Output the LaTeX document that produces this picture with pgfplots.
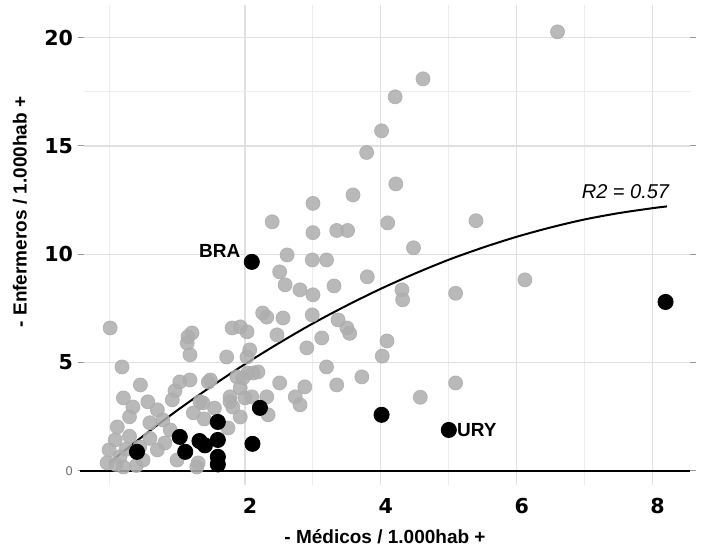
\documentclass[border=0pt]{standalone}
\usepackage{fontspec}
\setmainfont{Liberation Sans}
\newfontfamily\tickfont{DejaVu Sans}
\usepackage{pgfplots}
\pgfplotsset{compat=1.18}
\begin{document}
\begin{tikzpicture}
\begin{axis}[
  name=ax,
  scale only axis, width=303pt, height=240pt,
  xmin=-0.37, xmax=8.55, ymin=-0.65, ymax=21.51,
  axis line style={draw=none},
  xtick={2,4,6,8}, ytick={0,5,10,15,20},
  yticklabels={{\color{black!55}\fontsize{6}{6}\selectfont\mdseries 0},5,10,15,20},
  minor xtick={0,3,5,7}, minor ytick={17.5},
  grid=both,
  major grid style={black!12, line width=0.6pt},
  minor grid style={black!7, line width=0.5pt},
  tick align=outside,
  xtick style={draw=none},
  ytick style={black!40, line width=0.5pt},
  major tick length=3pt, minor tick length=0pt,
  ticklabel style={font=\tickfont\bfseries\fontsize{10.3}{12}\selectfont},
  /pgf/number format/assume math mode=true,
  xticklabel style={yshift=0pt, xshift=2.5pt},
  yticklabel style={xshift=1pt},
  clip=false,
  xlabel={- Médicos / 1.000hab +},
  ylabel={- Enfermeros / 1.000hab +},
  label style={font=\bfseries\fontsize{9.5}{11}\selectfont},
  xlabel style={at={(axis description cs:0.4967,-0.108)}, anchor=center},
  ylabel style={at={(axis description cs:-0.1056,0.569)}, anchor=center},
]
% gray countries
\addplot[only marks, mark=*, mark size=3.5pt,
  mark options={black!32, opacity=0.85}] coordinates {
(6.60,20.27) (4.62,18.1) (4.21,17.27) (4.01,15.7) (3.79,14.7) (4.22,13.25)
(3.59,12.74) (3.0,12.35) (5.40,11.55) (4.10,11.45) (2.40,11.5) (3.0,11.0)
(3.35,11.1) (3.51,11.1) (4.48,10.3) (2.62,9.97) (2.99,9.74) (3.2,9.74)
(2.51,9.19) (2.59,8.59) (2.81,8.36) (3.0,8.13) (3.31,8.54) (3.80,8.96)
(4.31,8.36) (4.32,7.9) (5.10,8.2) (6.12,8.82) (2.26,7.29) (2.56,7.06)
(2.99,7.2) (3.37,6.97) (3.50,6.6) (3.54,6.35) (1.93,6.65) (4.09,6.0)
(4.02,5.3) (3.72,4.34) (5.10,4.06) (4.58,3.40) (2.91,5.68) (3.13,6.14)
(3.2,4.8) (3.35,3.97) (2.19,4.57) (2.51,4.06) (2.88,3.88) (2.74,3.42)
(2.81,3.05) (2.0,3.37) (2.32,3.42) (2.34,2.59) (1.97,4.29) (2.07,5.59)
(2.47,6.28) (2.03,6.42) (1.81,6.6) (1.73,5.26) (2.03,5.26) (2.12,4.52)
(1.88,4.34) (1.82,2.95) (1.93,2.49) (1.75,1.98) (2.10,3.42) (1.78,3.42)
(1.16,6.19) (1.19,5.36) (1.15,5.9) (1.22,6.37) (2.32,7.1)
(0.015,6.6) (0.19,4.8) (0.46,3.97) (0.21,3.37) (0.35,2.95)
(0.57,3.19) (0.71,2.82) (0.93,3.28) (1.04,4.11) (1.19,4.2) (0.97,3.7)
(1.49,4.2) (1.38,3.14) (1.24,2.68) (0.79,2.35) (0.6,2.22) (0.12,2.03)
(0.09,1.43) (0.16,0.65) (-0.03,0.37) (0.21,0.18) (0.5,0.5) (0.71,0.97)
(0.82,1.29) (0.9,1.89) (1.31,0.37) (0.3,1.6) (0.45,1.1) (0.1,0.3)
(0.4,0.25) (0.0,0.97) (1.29,0.18) (1.0,0.5) (1.34,3.19) (1.46,4.1)
(1.78,3.19) (1.93,3.83) (2.04,4.52) (1.55,2.9) (1.4,2.4) (0.3,2.5)
(0.25,1.0) (0.6,1.5)
};
% fitted curve
\addplot[black, line width=1pt, smooth] coordinates {
(0,0.37) (0.5,1.61) (1,2.79) (1.5,3.89) (2,4.93) (2.5,5.90) (3,6.81)
(3.5,7.64) (4,8.41) (4.5,9.11) (5,9.75) (5.5,10.31) (6,10.81) (6.5,11.24)
(7,11.61) (7.5,11.90) (8,12.13) (8.21,12.21)
};
% zero line
\addplot[black, line width=1pt] coordinates {(-0.43,0) (8.55,0)};
% highlighted countries
\addplot[only marks, mark=*, mark size=3.8pt,
  mark options={black}] coordinates {
(2.10,9.65) (8.19,7.80) (4.01,2.59) (5.00,1.89) (2.22,2.91) (2.11,1.25)
(1.60,2.26) (1.60,1.43) (1.60,0.65) (1.60,0.30) (1.04,1.57) (1.12,0.88)
(1.33,1.38) (1.41,1.18) (0.41,0.88)
};
\node[anchor=east, inner sep=0pt, font=\bfseries\fontsize{9.5}{11}\selectfont, xshift=-5.5pt, yshift=5.5pt] at (axis cs:2.10,9.65) {BRA};
\node[anchor=west, inner sep=0pt, font=\bfseries\fontsize{9.5}{11}\selectfont, xshift=4pt] at (axis cs:5.00,1.89) {URY};
\node[anchor=center, inner sep=0pt, font=\itshape\fontsize{10}{12}\selectfont] at (axis cs:7.60,12.88) {R2 = 0.57};
\coordinate (bl) at (rel axis cs:-0.1386,-0.1333);
\coordinate (tr) at (rel axis cs:1.0198,1.0104);
\end{axis}
\pgfresetboundingbox
\path (bl) rectangle (tr);
\end{tikzpicture}
\end{document}
